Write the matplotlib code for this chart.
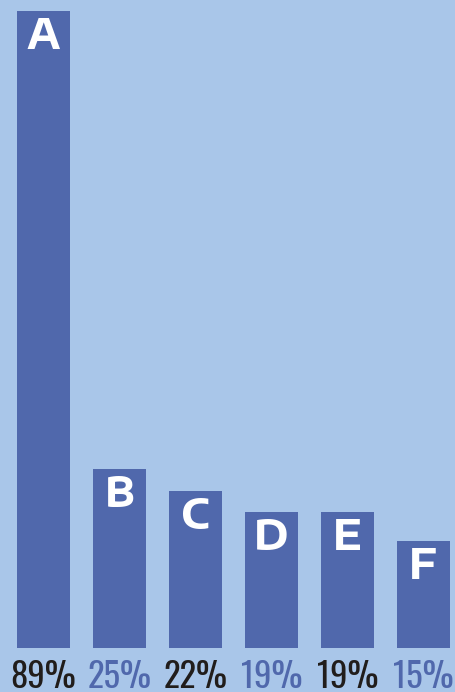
import matplotlib.pyplot as plt

letters = ['A', 'B', 'C', 'D', 'E', 'F']
values = [89, 25, 22, 19, 19, 15]
shown = ['89%', '25%', '22%', '19%', '19%', '15%']
label_colors = ['#211d1b', '#5068ac', '#211d1b', '#5068ac', '#211d1b', '#5068ac']

bg = '#a9c6e9'
bar_color = '#5068ac'

fig = plt.figure(figsize=(4.56, 6.92), dpi=100)
fig.patch.set_facecolor(bg)
ax = fig.add_axes([0, 0, 1, 1])
ax.set_facecolor(bg)

x = list(range(len(values)))
ax.bar(x, values, width=0.70, color=bar_color)

for i, v in enumerate(values):
    ax.annotate(letters[i], xy=(i, v), xytext=(0, -19), textcoords='offset points',
                ha='center', va='center', color='white', fontsize=29,
                fontweight='bold', family=['Encode Sans Expanded', 'DejaVu Sans'])
    ax.text(i, -5.65, shown[i], ha='center', va='baseline', color=label_colors[i],
            fontsize=25, family=['Oswald', 'DejaVu Sans'])

ax.set_xlim(-0.572, 5.428)
ax.set_ylim(-6.15, 90.54)
ax.axis('off')

fig.savefig('out.png', dpi=100, facecolor=bg)
